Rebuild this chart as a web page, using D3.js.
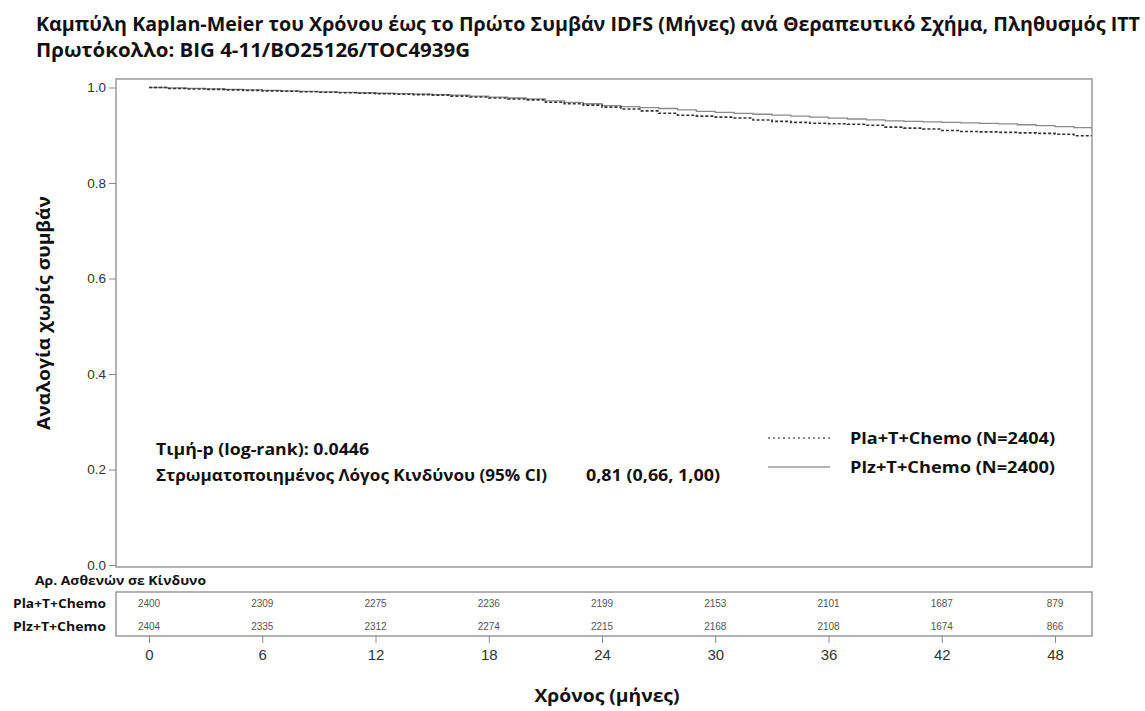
<!DOCTYPE html>
<html><head><meta charset="utf-8">
<script src="https://cdn.jsdelivr.net/npm/d3@7/dist/d3.min.js"></script>
<style>body{margin:0;background:#fff}svg{display:block}</style>
</head><body>
<svg id="c" width="1145" height="711"></svg>
<script>
// ---- data ----
const titleLines = ["Καμπύλη Kaplan-Meier του Χρόνου έως το Πρώτο Συμβάν IDFS (Μήνες) ανά Θεραπευτικό Σχήμα, Πληθυσμός ITT",
                    "Πρωτόκολλο: BIG 4-11/BO25126/TOC4939G"];
const yTicks = [0, 0.2, 0.4, 0.6, 0.8, 1.0];
const xTicks = [0, 6, 12, 18, 24, 30, 36, 42, 48];
const months = [0,1,2,3,4,5,6,7,8,9,10,11,12,13,14,15,16,17,18,19,20,21,22,23,24,25,26,27,28,29,30,31,32,33,34,35,36,37,38,39,40,41,42,43,44,45,46,47,48,49,49.9];
const survPla = [1.000,0.998,0.997,0.996,0.995,0.994,0.993,0.992,0.991,0.990,0.989,0.988,0.987,0.986,0.985,0.984,0.982,0.980,0.978,0.976,0.974,0.969,0.966,0.963,0.959,0.955,0.951,0.946,0.942,0.940,0.938,0.936,0.932,0.929,0.927,0.925,0.924,0.923,0.921,0.917,0.915,0.913,0.910,0.908,0.907,0.906,0.905,0.904,0.902,0.899,0.898];
const survPlz = [1.000,0.999,0.998,0.997,0.996,0.995,0.994,0.993,0.992,0.991,0.990,0.989,0.988,0.987,0.986,0.985,0.984,0.982,0.980,0.978,0.976,0.972,0.969,0.966,0.962,0.960,0.958,0.956,0.953,0.950,0.948,0.946,0.944,0.942,0.940,0.938,0.936,0.934,0.932,0.930,0.929,0.928,0.927,0.926,0.925,0.924,0.922,0.920,0.918,0.916,0.914];
const groups = ["Pla+T+Chemo", "Plz+T+Chemo"];
const legendLabels = ["Pla+T+Chemo (N=2404)", "Plz+T+Chemo (N=2400)"];
const atRiskPla = [2400, 2309, 2275, 2236, 2199, 2153, 2101, 1687, 879];
const atRiskPlz = [2404, 2335, 2312, 2274, 2215, 2168, 2108, 1674, 866];
const statsLine1 = "Τιμή-p (log-rank): 0.0446";
const statsLine2a = "Στρωματοποιημένος Λόγος Κινδύνου (95% CI)";
const statsLine2b = "0,81 (0,66, 1,00)";
const yTitle = "Αναλογία χωρίς συμβάν";
const xTitle = "Χρόνος (μήνες)";
const riskTitle = "Αρ. Ασθενών σε Κίνδυνο";

// ---- layout ----
const svg = d3.select("#c");
const F = "'Open Sans', 'Noto Sans', sans-serif";
const A = "'Liberation Sans', Arial, sans-serif";
const frame = {l:116, r:1092, t:79, b:567};
const table = {t:592, b:636};
const x = d3.scaleLinear().domain([0, 48]).range([149, 1055]);
const y = d3.scaleLinear().domain([0, 1]).range([565, 87.5]);

function fit(sel, w){ sel.attr("textLength", w).attr("lengthAdjust", "spacingAndGlyphs"); return sel; }

// title
fit(svg.append("text").attr("x", 36).attr("y", 31).attr("font-family", F).attr("font-weight", 700)
  .attr("font-size", 19).attr("fill", "#111").text(titleLines[0]), 1104);
fit(svg.append("text").attr("x", 36).attr("y", 57).attr("font-family", F).attr("font-weight", 700)
  .attr("font-size", 19).attr("fill", "#111").text(titleLines[1]), 434);

// plot frame
svg.append("rect").attr("x", frame.l).attr("y", frame.t).attr("width", frame.r - frame.l)
  .attr("height", frame.b - frame.t).attr("fill", "none").attr("stroke", "#999").attr("stroke-width", 1.5);

// y axis
const yAxis = svg.append("g").attr("transform", `translate(${frame.l},0)`)
  .call(d3.axisLeft(y).tickValues(yTicks).tickFormat(d3.format(".1f")).tickSize(7).tickPadding(3));
yAxis.select(".domain").remove();
yAxis.selectAll("line").attr("stroke", "#888");
yAxis.selectAll("text").attr("font-family", A).attr("font-size", 13.5).attr("fill", "#333");

// curves
const line = d3.line().x((d) => x(d[0])).y((d) => y(d[1])).curve(d3.curveStepAfter);
svg.append("path").datum(months.map((m, i) => [m, survPlz[i]])).attr("d", line)
  .attr("fill", "none").attr("stroke", "#8a8a8a").attr("stroke-width", 1.3);
svg.append("path").datum(months.map((m, i) => [m, survPla[i]])).attr("d", line)
  .attr("fill", "none").attr("stroke", "#333").attr("stroke-width", 1.6).attr("stroke-dasharray", "3,2");

// stats text
fit(svg.append("text").attr("x", 156).attr("y", 455).attr("font-family", F).attr("font-weight", 700)
  .attr("font-size", 16).attr("fill", "#111").text(statsLine1), 213);
fit(svg.append("text").attr("x", 156).attr("y", 481).attr("font-family", F).attr("font-weight", 700)
  .attr("font-size", 16).attr("fill", "#111").text(statsLine2a), 391);
fit(svg.append("text").attr("x", 586).attr("y", 481).attr("font-family", F).attr("font-weight", 700)
  .attr("font-size", 16).attr("fill", "#111").text(statsLine2b), 134);

// legend
const lg = svg.append("g");
[0, 1].forEach((i) => {
  const yy = i === 0 ? 438 : 467;
  lg.append("line").attr("x1", 768).attr("x2", 830).attr("y1", yy).attr("y2", yy)
    .attr("stroke", i === 0 ? "#666" : "#999").attr("stroke-width", i === 0 ? 1.5 : 1.3)
    .attr("stroke-dasharray", i === 0 ? "2,3" : null);
  fit(lg.append("text").attr("x", 850).attr("y", yy + 6).attr("font-family", F).attr("font-weight", 700)
    .attr("font-size", 16).attr("fill", "#111").text(legendLabels[i]), 205);
});

// axis titles
fit(svg.append("text").attr("transform", "translate(50,313) rotate(-90)").attr("text-anchor", "middle")
  .attr("font-family", F).attr("font-weight", 700).attr("font-size", 18).attr("fill", "#111").text(yTitle), 234);
fit(svg.append("text").attr("x", 607).attr("y", 702).attr("text-anchor", "middle")
  .attr("font-family", F).attr("font-weight", 700).attr("font-size", 18).attr("fill", "#111").text(xTitle), 145);

// risk table
fit(svg.append("text").attr("x", 35).attr("y", 585).attr("font-family", F).attr("font-weight", 700)
  .attr("font-size", 12.5).attr("fill", "#111").text(riskTitle), 171);
svg.append("rect").attr("x", frame.l).attr("y", table.t).attr("width", frame.r - frame.l)
  .attr("height", table.b - table.t).attr("fill", "none").attr("stroke", "#999").attr("stroke-width", 1.5);
const rows = [atRiskPla, atRiskPlz];
const rowY = [603.5, 626];
rows.forEach((vals, r) => {
  fit(svg.append("text").attr("x", 106).attr("y", rowY[r] + 4.5).attr("text-anchor", "end")
    .attr("font-family", F).attr("font-weight", 700).attr("font-size", 12.5).attr("fill", "#111").text(groups[r]), 93);
  svg.append("g").selectAll("text").data(vals).join("text")
    .attr("x", (d, i) => x(xTicks[i])).attr("y", rowY[r] + 3.5).attr("text-anchor", "middle")
    .attr("font-family", A).attr("font-size", 10).attr("fill", "#555").text((d) => d);
});

// x axis below table
const xAxis = svg.append("g").attr("transform", `translate(0,${table.b})`)
  .call(d3.axisBottom(x).tickValues(xTicks).tickFormat(d3.format("d")).tickSize(7).tickPadding(6));
xAxis.select(".domain").remove();
xAxis.selectAll("line").attr("stroke", "#888");
xAxis.selectAll("text").attr("font-family", A).attr("font-size", 15).attr("fill", "#333");
</script>
</body></html>
